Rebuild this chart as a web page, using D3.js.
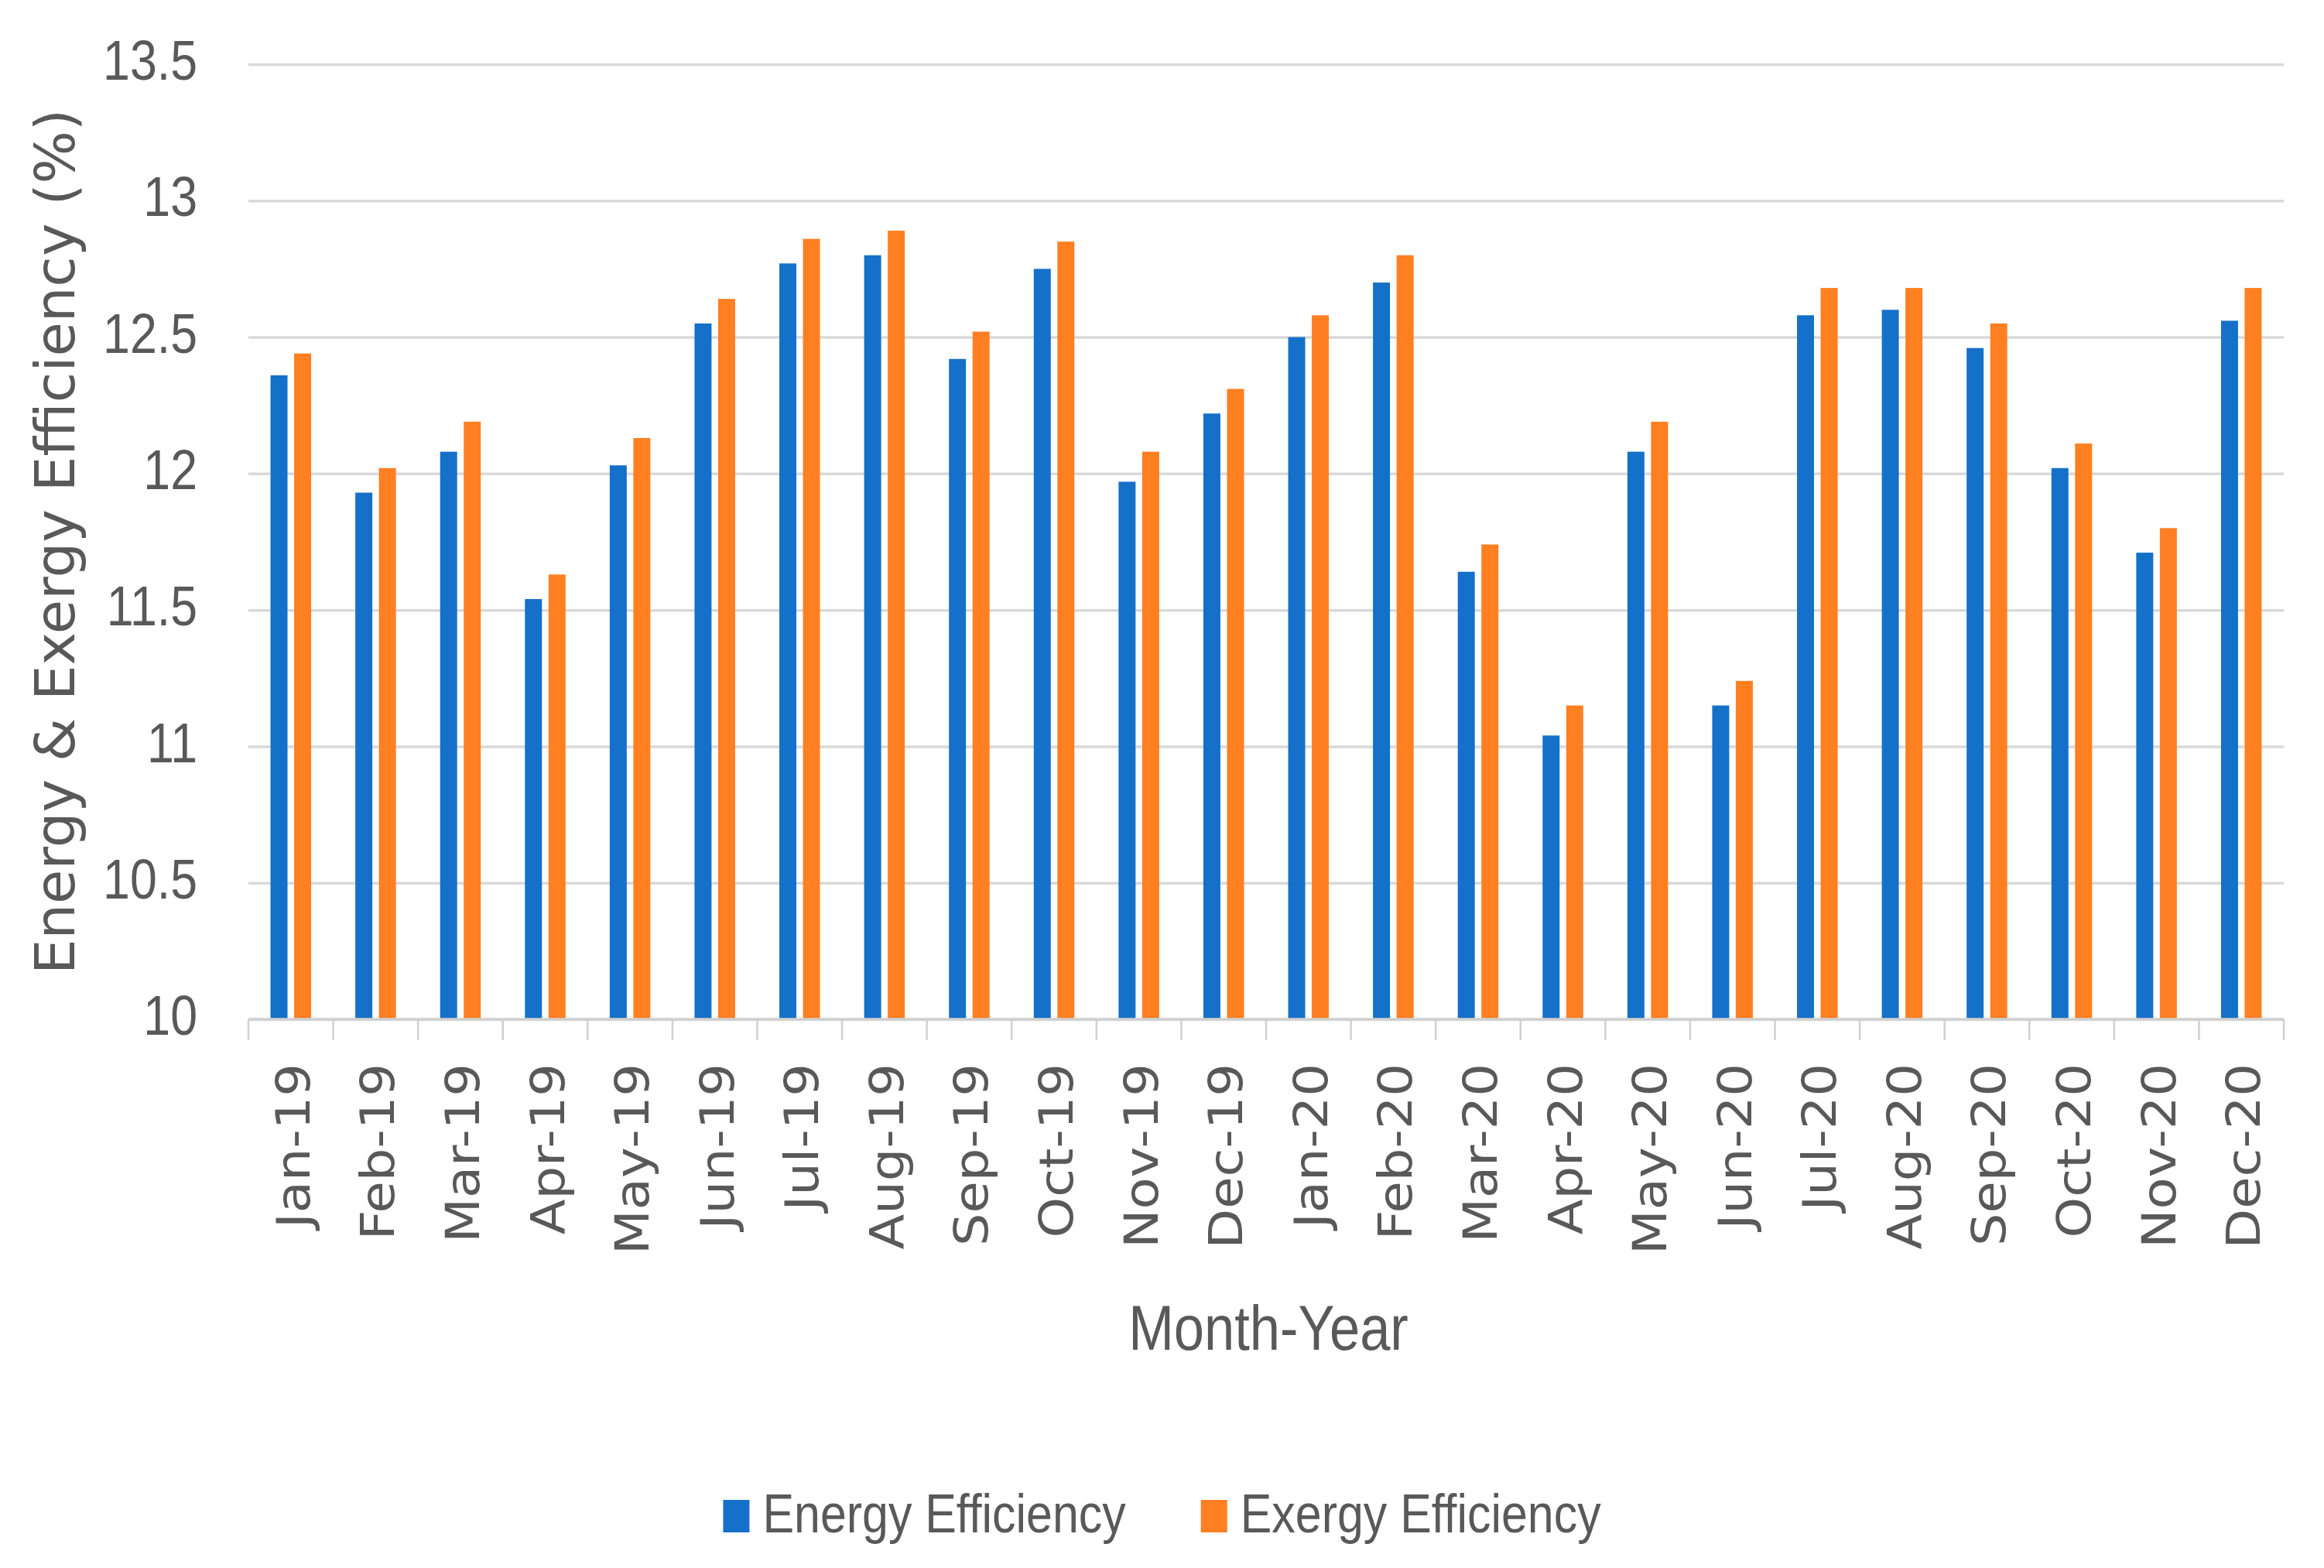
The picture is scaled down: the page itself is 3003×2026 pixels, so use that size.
<!DOCTYPE html>
<html>
<head>
<meta charset="utf-8">
<script src="https://cdn.jsdelivr.net/npm/d3@7"></script>
<style>
    body { margin: 0; background: #fff; }
</style>
</head>
<body>
<svg id="chart" width="3003" height="2026"></svg>
<script>
var months = ['Jan-19', 'Feb-19', 'Mar-19', 'Apr-19', 'May-19', 'Jun-19', 'Jul-19', 'Aug-19',
    'Sep-19', 'Oct-19', 'Nov-19', 'Dec-19', 'Jan-20', 'Feb-20', 'Mar-20', 'Apr-20',
    'May-20', 'Jun-20', 'Jul-20', 'Aug-20', 'Sep-20', 'Oct-20', 'Nov-20', 'Dec-20'];
var energy = [12.36, 11.93, 12.08, 11.54, 12.03, 12.55, 12.77, 12.80,
    12.42, 12.75, 11.97, 12.22, 12.50, 12.70, 11.64, 11.04,
    12.08, 11.15, 12.58, 12.60, 12.46, 12.02, 11.71, 12.56];
var exergy = [12.44, 12.02, 12.19, 11.63, 12.13, 12.64, 12.86, 12.89,
    12.52, 12.85, 12.08, 12.31, 12.58, 12.80, 11.74, 11.15,
    12.19, 11.24, 12.68, 12.68, 12.55, 12.11, 11.80, 12.68];
var yTicks = [10, 10.5, 11, 11.5, 12, 12.5, 13, 13.5];
var seriesNames = ['Energy Efficiency', 'Exergy Efficiency'];
var colors = ['#1570C9', '#FF7F21'];

function drawChart() {
    var W = 3003;
    var pLeft = 321, pRight = 2951, pTop = 83, pBottom = 1317;
    var textColor = '#595959', gridColor = '#d9d9d9';
    var narrowFont = '"Liberation Sans", Arial, sans-serif';
    var wideFont = '"DejaVu Sans", Verdana, sans-serif';

    var svg = d3.select('#chart');

    var x = d3.scaleBand().domain(months).range([pLeft, pRight]);
    var x1 = d3.scaleBand().domain(seriesNames).range([-26.25, 26.25]).paddingInner(0.28);
    var y = d3.scaleLinear().domain([10, 13.5]).range([pBottom, pTop]);

    // gridlines + y labels
    var yAxis = svg.append('g')
        .attr('transform', 'translate(' + pLeft + ',0)')
        .call(d3.axisLeft(y).tickValues(yTicks).tickSize(-(pRight - pLeft)).tickPadding(0)
            .tickFormat(d => String(d)));
    yAxis.select('.domain').remove();
    yAxis.selectAll('line').attr('stroke', gridColor).attr('stroke-width', 3.5);
    yAxis.selectAll('text')
        .attr('x', 0).attr('dy', '0.3em')
        .attr('transform', 'translate(-66,-2) scale(0.87,1)')
        .style('font-family', narrowFont)
        .style('font-size', '72px')
        .attr('fill', textColor);

    // bars
    var rows = months.map((m, i) => ({ month: m, values: [energy[i], exergy[i]] }));

    var groups = svg.append('g').selectAll('g')
        .data(rows)
        .join('g')
        .attr('transform', d => 'translate(' + (x(d.month) + x.bandwidth() / 2) + ',0)');

    groups.selectAll('rect')
        .data(d => d.values.map((v, k) => ({ key: seriesNames[k], value: v, k: k })))
        .join('rect')
        .attr('x', d => x1(d.key))
        .attr('width', x1.bandwidth())
        .attr('y', d => y(d.value))
        .attr('height', d => y(10) - y(d.value))
        .attr('fill', d => colors[d.k]);

    // x axis line + boundary ticks
    svg.append('line')
        .attr('x1', pLeft).attr('x2', pRight)
        .attr('y1', pBottom).attr('y2', pBottom)
        .attr('stroke', '#d0d0d0').attr('stroke-width', 3.5);

    var bounds = months.map(m => x(m)).concat([pRight]);
    svg.append('g').selectAll('line')
        .data(bounds)
        .join('line')
        .attr('x1', d => d).attr('x2', d => d)
        .attr('y1', pBottom).attr('y2', pBottom + 27)
        .attr('stroke', '#d0d0d0').attr('stroke-width', 2.5);

    var xAxis = svg.append('g')
        .attr('transform', 'translate(0,' + pBottom + ')')
        .call(d3.axisBottom(x).tickSize(0).tickPadding(0));
    xAxis.select('.domain').remove();
    xAxis.selectAll('line').remove();
    xAxis.selectAll('text')
        .attr('x', 0).attr('y', 0).attr('dy', 0)
        .attr('text-anchor', 'end')
        .attr('transform', 'translate(24,57) rotate(-90) scale(1.1,1)')
        .style('font-family', wideFont)
        .style('font-size', '61px')
        .attr('fill', textColor);

    // axis titles
    svg.append('text')
        .attr('transform', 'translate(96,700) rotate(-90)')
        .attr('text-anchor', 'middle')
        .style('font-family', wideFont)
        .style('font-size', '72px')
        .attr('fill', textColor)
        .text('Energy & Exergy Efficiency (%)');

    svg.append('text')
        .attr('transform', 'translate(1639,1744) scale(0.87,1)')
        .attr('text-anchor', 'middle')
        .style('font-family', narrowFont)
        .style('font-size', '81px')
        .attr('fill', textColor)
        .text('Month-Year');

    // legend
    var legend = svg.append('g');
    var sq = 34, sqGap = 17, itemGap = 97, legY = 1980;
    var items = legend.selectAll('g')
        .data(seriesNames)
        .join('g');
    items.append('rect')
        .attr('width', sq).attr('height', 42)
        .attr('y', legY - 42)
        .attr('fill', (d, i) => colors[i]);
    items.append('text')
        .attr('transform', 'translate(' + (sq + sqGap) + ',' + legY + ') scale(0.87,1)')
        .style('font-family', narrowFont)
        .style('font-size', '70px')
        .attr('fill', textColor)
        .text(d => d);

    var widths = [];
    items.each(function () {
        widths.push(sq + sqGap + this.querySelector('text').getComputedTextLength() * 0.87);
    });
    var total = widths[0] + itemGap + widths[1];
    var pos = W / 2 - total / 2;
    items.attr('transform', (d, i) => {
        var p = pos;
        pos += widths[i] + itemGap;
        return 'translate(' + p + ',0)';
    });
}

drawChart();
</script>
</body>
</html>
